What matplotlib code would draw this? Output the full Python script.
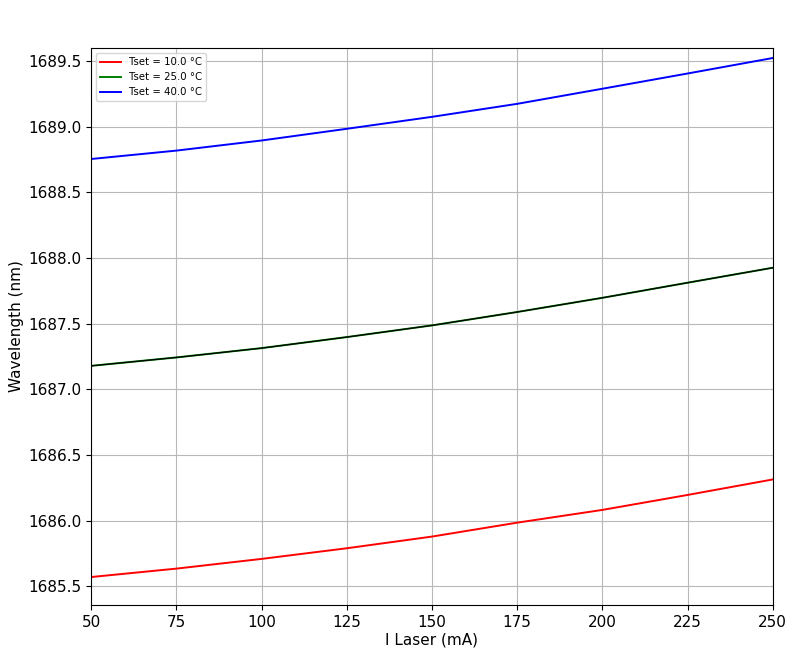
import matplotlib
matplotlib.use("Agg")
import matplotlib.pyplot as plt
import numpy as np

# corriente del laser (mA)
i_laser = [50, 75, 100, 125, 150, 175, 200, 225, 250]

# longitud de onda (nm) para cada temperatura
wl_10 = [1685.572, 1685.636, 1685.710, 1685.791, 1685.880, 1685.986, 1686.083, 1686.197, 1686.315]
wl_25 = [1687.180, 1687.244, 1687.315, 1687.399, 1687.488, 1687.590, 1687.698, 1687.813, 1687.927]
wl_40 = [1688.755, 1688.819, 1688.896, 1688.985, 1689.076, 1689.175, 1689.290, 1689.406, 1689.524]

temps = [10.0, 25.0, 40.0]

fig = plt.figure(figsize=(8, 6.49), dpi=100)
ax = fig.add_axes([0.114, 0.068, 0.852, 0.858])

l1, = ax.plot(i_laser, wl_10, color="red", lw=1.4, label="Tset = %.1f °C" % temps[0])
l2, = ax.plot(i_laser, wl_25, color="green", lw=1.4, label="Tset = %.1f °C" % temps[1])
ax.plot(i_laser, wl_25, color="black", lw=0.9)
l3, = ax.plot(i_laser, wl_40, color="blue", lw=1.4, label="Tset = %.1f °C" % temps[2])

ax.set_xlim(50, 250)
ax.set_ylim(1685.36, 1689.60)
ax.set_xticks(np.arange(50, 251, 25))
ax.set_yticks(np.arange(1685.5, 1689.51, 0.5))
ax.yaxis.set_major_formatter(matplotlib.ticker.FormatStrFormatter("%.1f"))
ax.tick_params(labelsize=11)
ax.grid(True, color="#b8b8b8", lw=0.8)

ax.set_xlabel("I Laser (mA)", fontsize=11, labelpad=2)
ax.set_ylabel("Wavelength (nm)", fontsize=11, labelpad=3)
ax.legend(handles=[l1, l2, l3], loc="upper left", fontsize=7.3)

fig.savefig("out.png", dpi=100)
